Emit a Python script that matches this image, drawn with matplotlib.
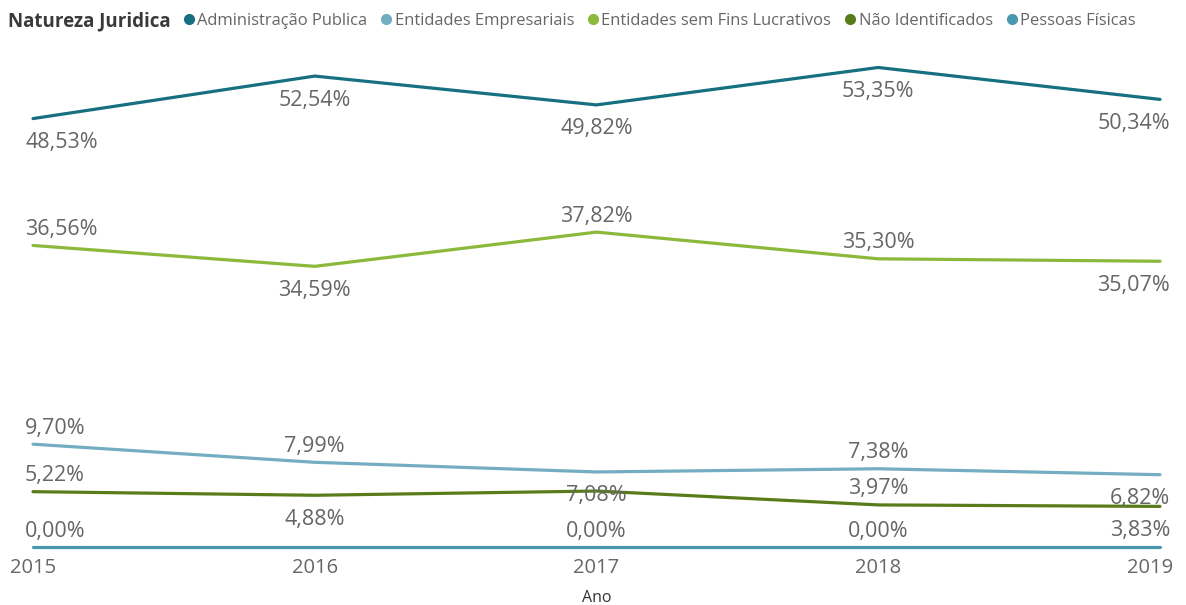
import matplotlib
matplotlib.use('Agg')
import matplotlib.pyplot as plt
import matplotlib.transforms as mtrans
from matplotlib.lines import Line2D

plt.rcParams['font.family'] = ['Open Sans', 'DejaVu Sans']

# data (percent)
anos = [2015, 2016, 2017, 2018, 2019]
series_names = ['Administração Publica', 'Entidades Empresariais',
                'Entidades sem Fins Lucrativos', 'Não Identificados',
                'Pessoas Físicas']
admin = [48.53, 52.54, 49.82, 53.35, 50.34]
empresariais = [9.70, 7.99, 7.08, 7.38, 6.82]
sem_fins = [36.56, 34.59, 37.82, 35.30, 35.07]
nao_ident = [5.22, 4.88, 5.28, 3.97, 3.83]
pessoas = [0.00, 0.00, 0.00, 0.00, 0.00]

# where each data label sits: a = above, b = below, n = hidden
label_pos = {
    'Administração Publica': 'bbbbb',
    'Entidades Empresariais': 'aabab',
    'Entidades sem Fins Lucrativos': 'abaab',
    'Não Identificados': 'abnab',
    'Pessoas Físicas': 'anaan',
}
colors = {
    'Administração Publica': '#17707f',
    'Entidades Empresariais': '#74adc2',
    'Entidades sem Fins Lucrativos': '#8cb83c',
    'Não Identificados': '#597c1a',
    'Pessoas Físicas': '#4a98ad',
}
values = {
    'Administração Publica': admin,
    'Entidades Empresariais': empresariais,
    'Entidades sem Fins Lucrativos': sem_fins,
    'Não Identificados': nao_ident,
    'Pessoas Físicas': pessoas,
}
upper = ['Administração Publica', 'Entidades sem Fins Lucrativos']

W, H = 1186, 605
fig = plt.figure(figsize=(W / 100, H / 100), dpi=100)
left, right = 33 / W, 1160 / W
pxpp = 10.6  # pixels per percent point

# broken axis: two panels with the same vertical scale
lo_lim = (-0.6, 11.5)
hi_lim = (30.0, 56.0)
zero_lo = 547
zero_hi = 633
ax_lo = fig.add_axes([left, (H - (zero_lo - lo_lim[0] * pxpp)) / H, right - left,
                      (lo_lim[1] - lo_lim[0]) * pxpp / H])
ax_hi = fig.add_axes([left, (H - (zero_hi - hi_lim[0] * pxpp)) / H, right - left,
                      (hi_lim[1] - hi_lim[0]) * pxpp / H])
ax_lo.set_ylim(*lo_lim)
ax_hi.set_ylim(*hi_lim)

grey = '#666666'
for name in series_names:
    ax = ax_hi if name in upper else ax_lo
    vals = values[name]
    ax.plot(anos, vals, color=colors[name], lw=2.3, clip_on=False,
            solid_joinstyle='round', solid_capstyle='round')
    for i, (x, v) in enumerate(zip(anos, vals)):
        p = label_pos[name][i]
        if p == 'n':
            continue
        dy = 16 if p == 'a' else -24
        if i == 0:
            ha, dx = 'left', -8
        elif i == len(anos) - 1:
            ha, dx = 'right', 10
        else:
            ha, dx = 'center', 0
        ax.annotate('{:.2f}%'.format(v).replace('.', ','), (x, v),
                    xytext=(dx, dy), textcoords='offset pixels',
                    ha=ha, va='center', fontsize=15.5, color=grey,
                    annotation_clip=False)

for ax in (ax_lo, ax_hi):
    ax.set_xlim(anos[0], anos[-1])
    for s in ax.spines.values():
        s.set_visible(False)
    ax.set_yticks([])
    ax.patch.set_alpha(0)

ax_hi.set_xticks([])
ax_lo.set_xticks(anos)
ax_lo.set_xticklabels([str(a) for a in anos], fontsize=14.5, color=grey)
ax_lo.tick_params(axis='x', length=0, pad=3)
# last year label is pulled in a bit so it stays inside the visual
last = ax_lo.get_xticklabels()[-1]
last.set_transform(last.get_transform() +
                   mtrans.ScaledTranslation(-10 / 100, 0, fig.dpi_scale_trans))
ax_lo.set_xlabel('Ano', fontsize=11.5, color='#333333', labelpad=9)

# legend row
fig.text(8 / W, 1 - 21 / H, 'Natureza Juridica', fontsize=13.5,
         fontweight='bold', color='#3a3a3a', va='center', ha='left')
handles = [Line2D([], [], ls='none', marker='o', markersize=7,
                  color=colors[n]) for n in series_names]
fig.legend(handles, series_names, loc='center left',
           bbox_to_anchor=(184 / W, 1 - 21 / H), ncol=5, frameon=False,
           fontsize=11.9, labelcolor=grey, handlelength=0.6,
           handletextpad=0.2, columnspacing=0.85, borderaxespad=0,
           borderpad=0)

fig.savefig('out.png', dpi=100)
